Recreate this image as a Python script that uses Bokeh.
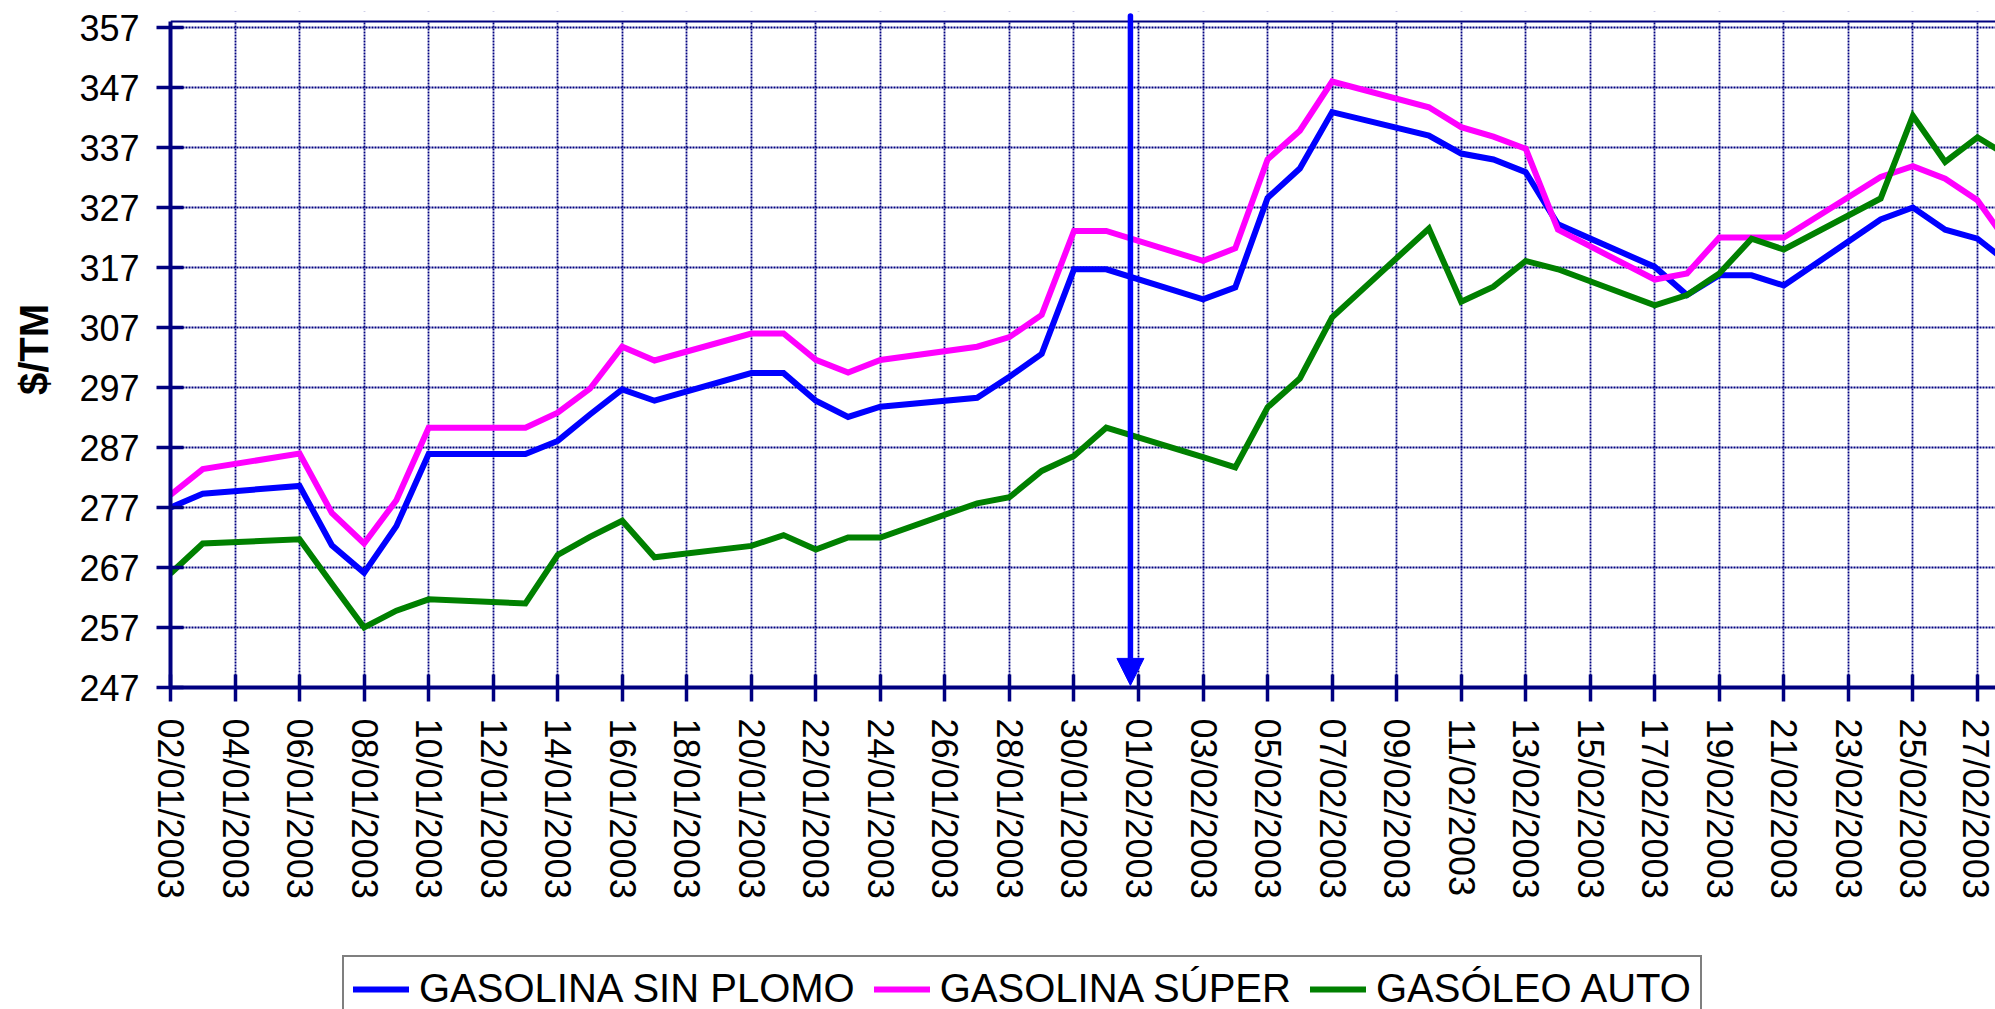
import pandas as pd
from bokeh.plotting import figure
from bokeh.layouts import column
from bokeh.models import (Range1d, FixedTicker, DatetimeTickFormatter, Arrow, NormalHead,
                          BoxAnnotation, Span, Legend, LegendItem)
from bokeh.embed import file_html
from bokeh.resources import INLINE

# ---------------- data ----------------
dates = ["02/01/2003", "03/01/2003", "06/01/2003", "07/01/2003", "08/01/2003",
         "09/01/2003", "10/01/2003", "13/01/2003", "14/01/2003", "15/01/2003",
         "16/01/2003", "17/01/2003", "20/01/2003", "21/01/2003", "22/01/2003",
         "23/01/2003", "24/01/2003", "27/01/2003", "28/01/2003", "29/01/2003",
         "30/01/2003", "31/01/2003", "03/02/2003", "04/02/2003", "05/02/2003",
         "06/02/2003", "07/02/2003", "10/02/2003", "11/02/2003", "12/02/2003",
         "13/02/2003", "14/02/2003", "17/02/2003", "18/02/2003", "19/02/2003",
         "20/02/2003", "21/02/2003", "24/02/2003", "25/02/2003", "26/02/2003",
         "27/02/2003", "28/02/2003"]

sin_plomo = [277.0, 279.3, 280.6, 270.7, 266.1, 273.9, 285.9, 285.9, 288.1, 292.5,
             296.7, 294.8, 299.4, 299.4, 294.8, 292.1, 293.8, 295.3, 298.8, 302.6,
             316.7, 316.7, 311.7, 313.7, 328.6, 333.5, 342.9, 339.0, 336.0, 335.0,
             332.9, 324.2, 317.1, 312.4, 315.7, 315.7, 314.0, 325.0, 327.0, 323.3,
             321.8, 317.6]

gasolina_super = [279.1, 283.4, 286.0, 276.1, 271.0, 278.2, 290.3, 290.3, 292.8, 296.8,
                  303.8, 301.5, 306.0, 306.0, 301.6, 299.5, 301.6, 303.8, 305.4, 309.1,
                  323.1, 323.1, 318.1, 320.2, 335.0, 339.8, 348.0, 343.7, 340.4, 338.8,
                  336.8, 323.3, 315.0, 316.0, 322.0, 322.0, 322.0, 332.1, 333.9, 331.8,
                  328.2, 320.7]

gasoleo_auto = [266.0, 271.0, 271.7, 264.3, 257.0, 259.8, 261.7, 261.0, 269.1, 272.1,
                274.8, 268.7, 270.6, 272.4, 270.0, 272.0, 272.0, 277.7, 278.7, 283.1,
                285.6, 290.3, 285.4, 283.7, 293.7, 298.5, 308.7, 323.5, 311.3, 313.8,
                318.1, 316.7, 310.7, 312.4, 316.0, 321.8, 320.0, 328.5, 342.3, 334.6,
                338.7, 335.4]

series_names = ["GASOLINA SIN PLOMO", "GASOLINA SÚPER", "GASÓLEO AUTO"]
series_colors = ["#0000FF", "#FF00FF", "#008000"]

y_ticks = [247, 257, 267, 277, 287, 297, 307, 317, 327, 337, 347, 357]
x_tick_first = "02/01/2003"
x_tick_last = "27/02/2003"
arrow_date = "31/01/2003 18:00"
y_label = "$/TM"

# ---------------- helpers ----------------
EPOCH = pd.Timestamp("1970-01-01")


def ms(ts):
    return (ts - EPOCH) / pd.Timedelta(milliseconds=1)


x = [ms(pd.to_datetime(d, format="%d/%m/%Y")) for d in dates]
tick_dates = pd.date_range(pd.to_datetime(x_tick_first, format="%d/%m/%Y"),
                           pd.to_datetime(x_tick_last, format="%d/%m/%Y"), freq="2D")
x_ticks = [ms(t) for t in tick_dates]
series = [sin_plomo, gasolina_super, gasoleo_auto]

DAY = 86400000.0
x_start = x_ticks[0]
x_end = x_start + 56.56 * DAY

NAVY = "#000080"
FONT = "Liberation Sans"

p = figure(width=1995, height=953, output_backend="svg", toolbar_location=None,
           x_axis_type="datetime",
           x_range=Range1d(x_start, x_end), y_range=Range1d(247, 359.67),
           min_border_left=170, min_border_top=11, min_border_right=0,
           min_border_bottom=266)
p.title = None
p.outline_line_color = None
p.background_fill_color = "white"
p.border_fill_color = "white"

# grids
p.xgrid.ticker = FixedTicker(ticks=x_ticks)
p.ygrid.ticker = FixedTicker(ticks=y_ticks)
for g, w in ((p.xgrid, 1.8), (p.ygrid, 2.2)):
    g.grid_line_color = NAVY
    g.grid_line_width = w
    g.grid_line_dash = "2 1"

# hide grid above the plot top
p.add_layout(BoxAnnotation(bottom=358, fill_color="white", fill_alpha=1.0,
                           line_alpha=0, level="underlay"))
p.add_layout(Span(location=358, dimension="width", line_color=NAVY, line_width=2,
                  level="guide"))

# axes
xa = p.xaxis[0]
xa.ticker = FixedTicker(ticks=x_ticks)
fmt = "%d/%m/%Y"
xa.formatter = DatetimeTickFormatter(days=fmt, months=fmt, years=fmt, hours=fmt,
                                     hourmin=fmt, minutes=fmt, minsec=fmt,
                                     seconds=fmt, milliseconds=fmt, microseconds=fmt)
xa.major_label_orientation = "vertical"
ya = p.yaxis[0]
ya.ticker = FixedTicker(ticks=y_ticks)
ya.bounds = (247, 358)
ya.axis_label = y_label
ya.axis_label_text_font = FONT
ya.axis_label_text_font_size = "40px"
ya.axis_label_text_font_style = "bold"
ya.axis_label_text_color = "black"
ya.axis_label_standoff = 20

for ax in (xa, ya):
    ax.axis_line_color = NAVY
    ax.axis_line_width = 4
    ax.major_tick_line_color = NAVY
    ax.major_tick_line_width = 3.5
    ax.major_tick_in = 13
    ax.major_tick_out = 14
    ax.minor_tick_line_color = None
    ax.major_label_text_font = FONT
    ax.major_label_text_font_size = "36px"
    ax.major_label_text_color = "black"
xa.major_label_standoff = 17
ya.major_label_standoff = 17

# series
for vals, col in zip(series, series_colors):
    p.line(x, vals, line_color=col, line_width=6, line_join="miter")

# arrow
ax_ms = ms(pd.to_datetime(arrow_date, format="%d/%m/%Y %H:%M"))
p.add_layout(Arrow(end=NormalHead(size=27, fill_color="#0000FF", line_color="#0000FF",
                                  line_width=1),
                   x_start=ax_ms, y_start=358.9, x_end=ax_ms, y_end=247.35,
                   line_color="#0000FF", line_width=5.5, line_cap="round"))

# legend strip (separate figure below the chart; its proxies lie outside its ranges)
lf = figure(width=1995, height=56, output_backend="svg", toolbar_location=None,
            x_range=Range1d(0, 1), y_range=Range1d(0, 1),
            x_axis_location=None, y_axis_location=None,
            min_border_left=170, min_border_top=0, min_border_right=0,
            min_border_bottom=0)
lf.title = None
lf.outline_line_color = None
lf.grid.visible = False
proxies = [lf.line(x, vals, line_color=c, line_width=6, line_cap="round")
           for vals, c in zip(series, series_colors)]
legend = Legend(items=[LegendItem(label=n, renderers=[r])
                       for n, r in zip(series_names, proxies)],
                orientation="horizontal", location=(172, -13),
                label_text_font=FONT, label_text_font_size="40px",
                label_text_color="black",
                glyph_width=56, glyph_height=40, label_standoff=10, spacing=19,
                padding=9, margin=0,
                border_line_color="black", border_line_width=2,
                background_fill_color="white", background_fill_alpha=1.0)
lf.add_layout(legend)

layout = column(p, lf, spacing=0)
open("out.html", "w").write(file_html(layout, INLINE))
